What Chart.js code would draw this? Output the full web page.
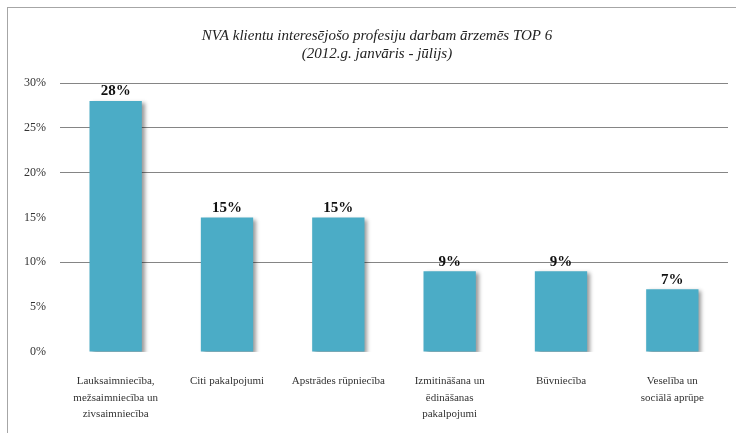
<!DOCTYPE html>
<html>
<head>
<meta charset="utf-8">
<script src="https://cdn.jsdelivr.net/npm/chart.js@4"></script>
<style>
    body { margin: 0; background: #fff; overflow: hidden; }
    .frame {
        position: absolute; left: 7px; top: 7px; width: 740px; height: 440px;
        border-left: 1px solid #a6a6a6; border-top: 1px solid #a6a6a6;
    }
    .frame canvas { position: absolute; left: 0; top: 0; }
</style>
</head>
<body>
<div class="frame"><canvas id="topChart" width="728" height="425"></canvas></div>
<script>
// data
const categories = [
    ['Lauksaimniecība,', 'mežsaimniecība un', 'zivsaimniecība'],
    'Citi pakalpojumi',
    'Apstrādes rūpniecība',
    ['Izmitināšana un', 'ēdināšanas', 'pakalpojumi'],
    'Būvniecība',
    ['Veselība un', 'sociālā aprūpe']
];
const shares = [28, 15, 15, 9, 9, 7];
const yTicks = [0, 5, 10, 15, 20, 25, 30];
const titleLines = ['NVA klientu interesējošo profesiju darbam ārzemēs TOP 6', '(2012.g. janvāris - jūlijs)'];

const serif = '"Liberation Serif", "Times New Roman", serif';

// title, bar shadow, value labels
const extras = {
    id: 'extras',
    beforeDatasetsDraw(chart) {
        const ctx = chart.ctx;
        ctx.save();
        ctx.shadowColor = 'rgba(0,0,0,0.4)';
        ctx.shadowBlur = 4;
        ctx.shadowOffsetX = 3;
        ctx.shadowOffsetY = 2;
    },
    afterDatasetsDraw(chart) {
        const ctx = chart.ctx;
        ctx.restore();
        ctx.save();
        ctx.font = 'bold 15px ' + serif;
        ctx.fillStyle = '#111';
        ctx.textAlign = 'center';
        ctx.textBaseline = 'bottom';
        chart.getDatasetMeta(0).data.forEach((bar, i) => {
            ctx.fillText(shares[i] + '%', bar.x, bar.y - 2);
        });
        ctx.font = 'italic 15px ' + serif;
        ctx.fillStyle = '#222';
        ctx.textBaseline = 'middle';
        titleLines.forEach((t, i) => ctx.fillText(t, 369, 28 + i * 18));
        ctx.restore();
    }
};

const ctx = document.getElementById('topChart').getContext('2d');
new Chart(ctx, {
    type: 'bar',
    data: {
        labels: categories,
        datasets: [{
            data: shares,
            backgroundColor: '#4bacc6',
            borderWidth: 0,
            barPercentage: 0.47,
            categoryPercentage: 1
        }]
    },
    options: {
        responsive: false,
        animation: false,
        layout: { padding: { top: 75, right: 8, left: 0, bottom: 0 } },
        plugins: {
            legend: { display: false },
            title: { display: false },
            tooltip: { enabled: false }
        },
        scales: {
            y: {
                min: 0,
                max: 30,
                afterBuildTicks(scale) {
                    scale.ticks = yTicks.map(v => ({ value: v }));
                },
                afterFit(scale) { scale.width = 52; },
                border: { display: false },
                grid: {
                    drawTicks: false,
                    lineWidth: 1,
                    color: c => [10, 20, 25, 30].includes(c.tick.value) ? '#858585' : 'rgba(0,0,0,0)'
                },
                ticks: {
                    padding: 14,
                    color: '#333',
                    font: { family: serif, size: 12 },
                    callback: v => v + '%'
                }
            },
            x: {
                afterFit(scale) { scale.height = 81; },
                border: { display: false },
                grid: { display: false, drawTicks: false },
                ticks: {
                    padding: 21,
                    maxRotation: 0,
                    autoSkip: false,
                    color: '#333',
                    font: { family: serif, size: 11, lineHeight: 1.5 }
                }
            }
        }
    },
    plugins: [extras]
});
</script>
</body>
</html>
